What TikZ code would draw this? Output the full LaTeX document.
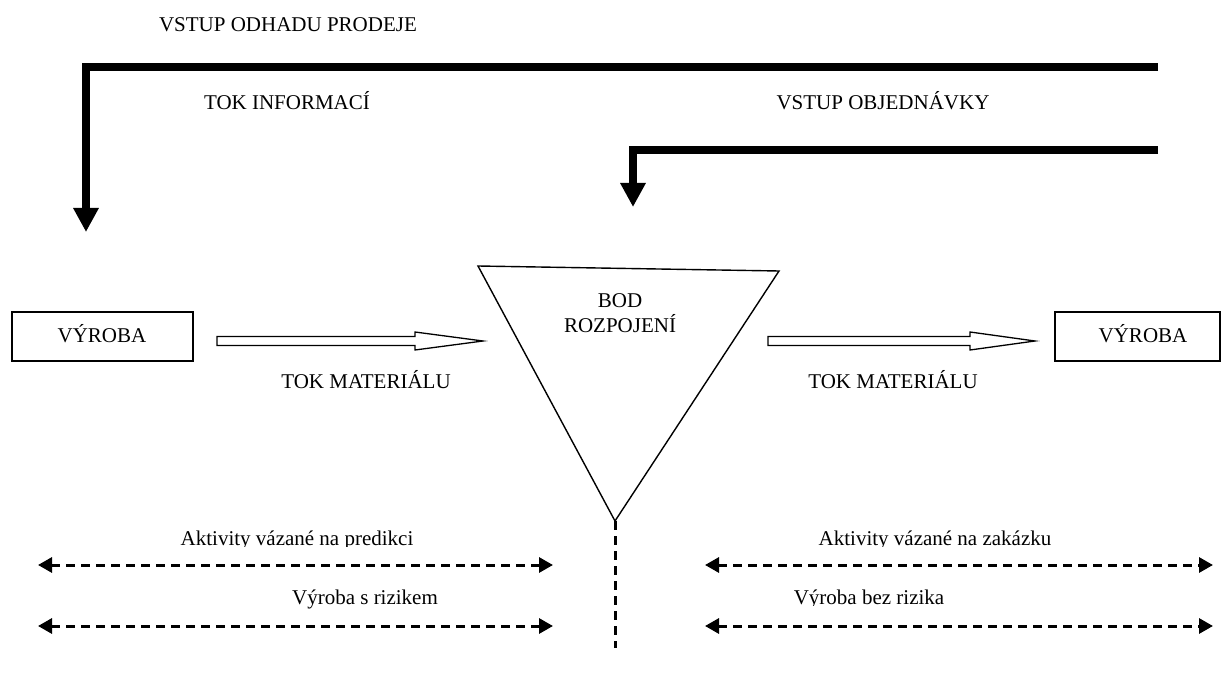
\documentclass[tikz,border=0pt]{standalone}
\usepackage{fontspec}
\setmainfont{Liberation Serif}
\usetikzlibrary{arrows.meta}
\begin{document}
\begin{tikzpicture}[x=1pt,y=-1pt,
  lbl/.style={anchor=base,inner sep=0pt,font=\fontsize{21}{25}\selectfont},
  thick line/.style={line width=8pt,line join=miter,-{Triangle[length=24pt,width=24pt]}},
  box/.style={draw,line width=1.3pt,inner sep=0pt},
  hollow/.style={draw,line width=1.3pt,line join=miter,fill=white},
  dashedline/.style={line width=3pt,dash pattern=on 9pt off 6pt},
  dashedarrow/.style={dashedline,{Triangle[length=14pt,width=15pt]}-{Triangle[length=14pt,width=15pt]}},
  tri/.style={draw,line width=1.4pt,line join=miter}]
\useasboundingbox (0,0) rectangle (1221,676);
% information flow
\node[lbl] (vod) at (288,32) {VSTUP ODHADU PRODEJE};
\node[lbl] (toki) at (287,110) {TOK INFORMACÍ};
\node[lbl] (vobj) at (883,110) {VSTUP OBJEDNÁVKY};
\coordinate (s1) at (1158,67);
\coordinate (c1) at (86,67);
\coordinate (e1) at (86,232);
\draw[thick line] (s1) -- (c1) -- (e1);
\coordinate (s2) at (1158,150);
\coordinate (c2) at (633,150);
\coordinate (e2) at (633,207);
\draw[thick line] (s2) -- (c2) -- (e2);
% boxes
\node[box,minimum width=181pt,minimum height=49pt] (vl) at (102.5,336.5) {};
\node[lbl] (vlt) at (102,342) {VÝROBA};
\node[box,minimum width=165pt,minimum height=49pt] (vr) at (1137.5,336.5) {};
\node[lbl] (vrt) at (1143,342) {VÝROBA};
% hollow arrows
\draw[hollow] (217,336.5) -- (415,336.5) -- (415,332) -- (483,341) -- (415,350) -- (415,345.5) -- (217,345.5) -- cycle;
\draw[hollow] (768,336.5) -- (970,336.5) -- (970,332) -- (1035,341) -- (970,350) -- (970,345.5) -- (768,345.5) -- cycle;
\node[lbl] (tml) at (366,388) {TOK MATERIÁLU};
\node[lbl] (tmr) at (893,388) {TOK MATERIÁLU};
% triangle
\coordinate (ta) at (478,266);
\coordinate (tb) at (779,271);
\coordinate (tc) at (615,521);
\draw[tri] (ta) -- (tb) -- (tc) -- cycle;
\node[lbl] (bod) at (620,308) {BOD};
\node[lbl] (roz) at (620,333) {ROZPOJENÍ};
\coordinate (vd) at (615,648);
\draw[dashedline] (tc) -- (vd);
% dashed arrows
\coordinate (a1) at (38,565); \coordinate (a2) at (553,565);
\coordinate (b1) at (38,626); \coordinate (b2) at (553,626);
\coordinate (a3) at (705,565); \coordinate (a4) at (1213,565);
\coordinate (b3) at (705,626); \coordinate (b4) at (1213,626);
\draw[dashedarrow] (a1) -- (a2);
\draw[dashedarrow] (b1) -- (b2);
\draw[dashedarrow] (a3) -- (a4);
\draw[dashedarrow] (b3) -- (b4);
\begin{scope}
\clip (100,510) rectangle (560,546);
\node[lbl] (akl) at (297,545) {Aktivity vázané na predikci};
\end{scope}
\begin{scope}
\clip (700,510) rectangle (1200,546);
\node[lbl] (akr) at (935,545) {Aktivity vázané na zakázku};
\end{scope}
\node[lbl] (vsr) at (365,604) {Výroba s rizikem};
\begin{scope}
\clip (700,570) rectangle (1200,605);
\node[lbl] (vbr) at (869,604) {Výroba bez rizika};
\end{scope}
\end{tikzpicture}
\end{document}
